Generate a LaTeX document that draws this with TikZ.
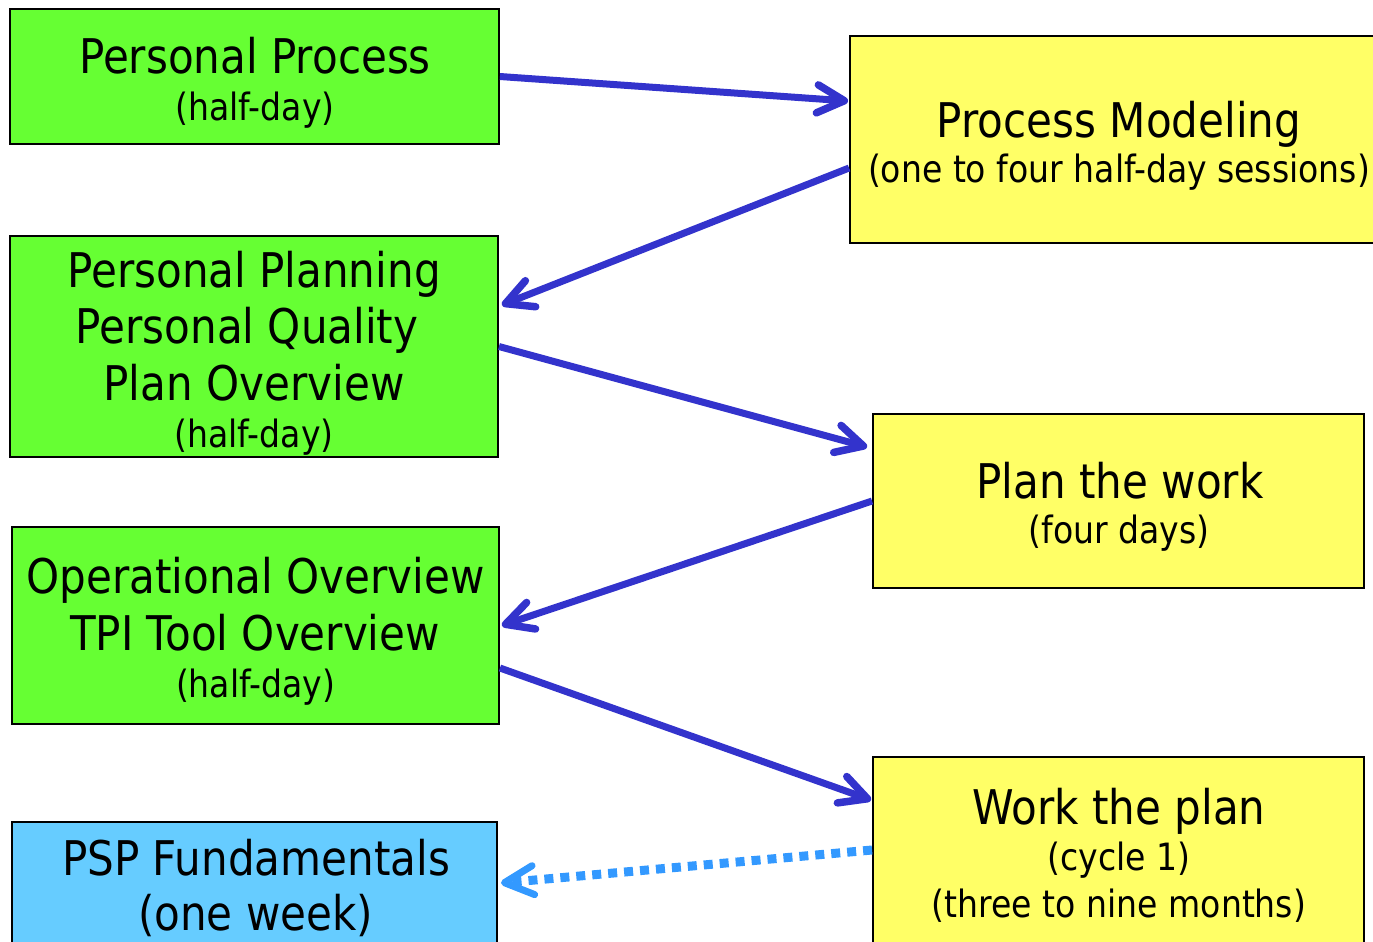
\documentclass[tikz,border=0pt]{standalone}
\usepackage{fontspec}
\setmainfont{DejaVu Sans}[FakeStretch=0.88]
\usetikzlibrary{arrows.meta,calc}
\definecolor{boxgreen}{HTML}{66FF33}
\definecolor{boxblue}{HTML}{66CCFF}
\definecolor{boxyellow}{HTML}{FFFF66}
\definecolor{arrowblue}{HTML}{3333CC}
\definecolor{dotblue}{HTML}{3399FF}
\tikzset{
  box/.style={draw=black,line width=0.04cm,inner sep=0pt},
  lg/.style={anchor=base,inner sep=0pt,font=\fontsize{27.2}{30}\selectfont},
  sm/.style={anchor=base,inner sep=0pt,font=\fontsize{21.4}{24}\selectfont},
  conn/.style={draw=arrowblue,line width=0.14cm,-{Straight Barb[length=0.54cm,width=0.56cm,round,line width=0.15cm]}},
  dotconn/.style={draw=dotblue,line width=0.18cm,dash pattern=on 0.18cm off 0.14cm,-{Straight Barb[length=0.58cm,width=0.58cm,round,line width=0.14cm]}}
}
\begin{document}
\begin{tikzpicture}[x=0.02cm,y=-0.02cm]
\useasboundingbox (0,0) rectangle (1373,941);
\clip (0,0) rectangle (1373,941);
% boxes
\node[box,fill=boxgreen,minimum width=9.78cm,minimum height=2.70cm] (b1) at (254.5,76.5) {};
\node[box,fill=boxgreen,minimum width=9.76cm,minimum height=4.42cm] (b2) at (254,346.5) {};
\node[box,fill=boxgreen,minimum width=9.74cm,minimum height=3.94cm] (b3) at (255.5,625.5) {};
\node[box,fill=boxblue,minimum width=9.70cm,minimum height=3.56cm] (b4) at (254.5,911) {};
\node[box,fill=boxyellow,minimum width=11.40cm,minimum height=4.14cm] (b5) at (1135,139.5) {};
\node[box,fill=boxyellow,minimum width=9.82cm,minimum height=3.48cm] (b6) at (1118.5,501) {};
\node[box,fill=boxyellow,minimum width=9.82cm,minimum height=4.86cm] (b7) at (1118.5,878.5) {};
% texts
\node[lg] (t1a) at (255,73) {Personal Process};
\node[sm] (t1b) at (255,120) {(half-day)};
\node[lg] (t2a) at (254,287) {Personal Planning};
\node[lg] (t2b) at (247,343) {Personal Quality};
\node[lg] (t2c) at (254,400) {Plan Overview};
\node[sm] (t2d) at (254,447) {(half-day)};
\node[lg] (t3a) at (255.5,593) {Operational Overview};
\node[lg] (t3b) at (255,650) {TPI Tool Overview};
\node[sm] (t3c) at (255.5,697) {(half-day)};
\node[lg] (t4a) at (256,875) {PSP Fundamentals};
\node[lg] (t4b) at (255.5,930) {(one week)};
\node[lg] (t5a) at (1119,137) {Process Modeling};
\node[sm] (t5b) at (1119,182) {(one to four half-day sessions)};
\node[lg] (t6a) at (1120,498) {Plan the work};
\node[sm] (t6b) at (1119,543) {(four days)};
\node[lg] (t7a) at (1119,824) {Work the plan};
\node[sm] (t7b) at (1119,870) {(cycle 1)};
\node[sm] (t7c) at (1119,917) {(three to nine months)};
% connectors
\draw[conn] (b1.east) -- ($(b5.west)+(-1,-38.5)$);
\draw[conn] ($(b5.west)+(0,28.5)$) -- ($(b2.east)+(3,-41.5)$);
\draw[conn] (b2.east) -- ($(b6.west)+(-5,-54)$);
\draw[conn] (b6.west) -- ($(b3.east)+(2,0)$);
\draw[conn] ($(b3.east)+(0,42.5)$) -- ($(b7.west)+(-1,-78.5)$);
\draw[dotconn] ($(b7.west)+(0,-28.5)$) -- ($(b4.east)+(3,-28)$);
\end{tikzpicture}
\end{document}
